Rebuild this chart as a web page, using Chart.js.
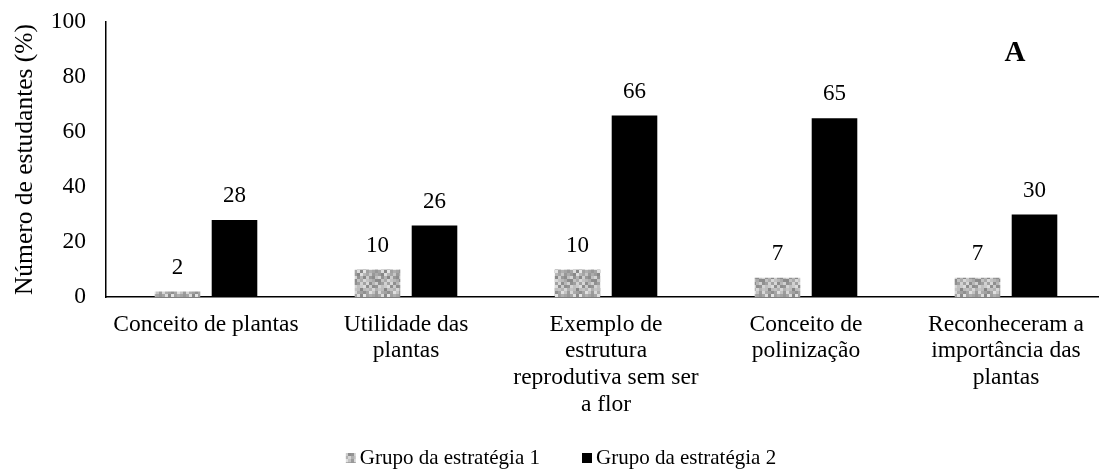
<!DOCTYPE html>
<html>
<head>
<meta charset="utf-8">
<script src="https://cdn.jsdelivr.net/npm/chart.js@4.4.0/dist/chart.umd.min.js"></script>
<style>
  html, body { margin: 0; padding: 0; background: #fff; overflow: hidden; }
  #wrap { width: 1106px; height: 473px; }
</style>
</head>
<body>
<div id="wrap"><canvas id="chart"></canvas></div>
<script>
// chart data
const categories = [
  ['Conceito de plantas'],
  ['Utilidade das', 'plantas'],
  ['Exemplo de', 'estrutura', 'reprodutiva sem ser', 'a flor'],
  ['Conceito de', 'polinização'],
  ['Reconheceram a', 'importância das', 'plantas']
];
const grupo1 = [2, 10, 10, 7, 7];
const grupo2 = [28, 26, 66, 65, 30];
const seriesLabels = ['Grupo da estratégia 1', 'Grupo da estratégia 2'];
const yTicks = [0, 20, 40, 60, 80, 100];

const serif = "'Liberation Serif', 'Times New Roman', serif";

// mottled grey fill like the original's texture
function makeTexture() {
  const c = document.createElement('canvas');
  c.width = 24; c.height = 24;
  const g = c.getContext('2d');
  for (let y = 0; y < 24; y += 3) {
    for (let x = 0; x < 24; x += 3) {
      const h = Math.abs(Math.sin(x * 12.9898 + y * 78.233) * 43758.5453) % 1;
      const v = Math.round(135 + h * 95);
      g.fillStyle = 'rgb(' + v + ',' + v + ',' + v + ')';
      g.fillRect(x, y, 3, 3);
    }
  }
  return g.createPattern(c, 'repeat');
}
const texture = makeTexture();

const ctx = document.getElementById('chart').getContext('2d');

const labelPlugin = {
  id: 'extras',
  afterDatasetsDraw(chart) {
    const c = chart.ctx;
    c.save();
    c.fillStyle = '#000';
    c.font = '23px ' + serif;
    c.textAlign = 'center';
    c.textBaseline = 'middle';
    chart.data.datasets.forEach((ds, i) => {
      chart.getDatasetMeta(i).data.forEach((bar, j) => {
        c.fillText(String(ds.data[j]), bar.x, bar.y - 24);
      });
    });
    // panel letter
    c.font = 'bold 29px ' + serif;
    c.fillText('A', 1015, 54);
    // legend
    c.font = '21px ' + serif;
    c.textAlign = 'left';
    const gap = 42, box = 10, sp = 4;
    const widths = seriesLabels.map(t => c.measureText(t).width);
    const total = widths[0] + widths[1] + 2 * (box + sp) + gap;
    let x = 561 - total / 2;
    const y = 458;
    chart.data.datasets.forEach((ds, i) => {
      c.fillStyle = ds.backgroundColor;
      c.fillRect(x, y - 5, box, box);
      c.fillStyle = '#000';
      c.fillText(ds.label, x + box + sp, y);
      x += box + sp + widths[i] + gap;
    });
    c.restore();
  }
};

new Chart(ctx, {
  type: 'bar',
  data: {
    labels: categories,
    datasets: [
      { label: seriesLabels[0], data: grupo1, backgroundColor: texture },
      { label: seriesLabels[1], data: grupo2, backgroundColor: '#000000' }
    ]
  },
  options: {
    responsive: true,
    maintainAspectRatio: false,
    animation: false,
    events: [],
    layout: { padding: { top: 22, right: 0, bottom: 0, left: 0 } },
    datasets: { bar: { categoryPercentage: 0.57, barPercentage: 0.8 } },
    plugins: { legend: { display: false }, tooltip: { enabled: false } },
    scales: {
      x: {
        grid: { display: false, drawTicks: false },
        border: { display: true, color: '#000', width: 1.5 },
        ticks: {
          color: '#000',
          padding: 14,
          maxRotation: 0,
          autoSkip: false,
          font: { family: serif, size: 23.5, lineHeight: 1.14 }
        },
        afterFit(scale) { scale.height = 176; }
      },
      y: {
        min: 0,
        max: 100,
        grid: { display: false, drawTicks: false },
        border: { display: true, color: '#000', width: 1.5 },
        afterBuildTicks(scale) { scale.ticks = yTicks.map(v => ({ value: v })); },
        ticks: {
          color: '#000',
          padding: 20,
          font: { family: serif, size: 23.5 }
        },
        title: {
          display: true,
          text: 'Número de estudantes (%)',
          color: '#000',
          padding: { top: 10, bottom: 0 },
          font: { family: serif, size: 25.5 }
        },
        afterFit(scale) {
          scale.width = 106;
          scale.paddingTop = 0;
          scale.paddingBottom = 0;
        }
      }
    }
  },
  plugins: [labelPlugin]
});
</script>
</body>
</html>
